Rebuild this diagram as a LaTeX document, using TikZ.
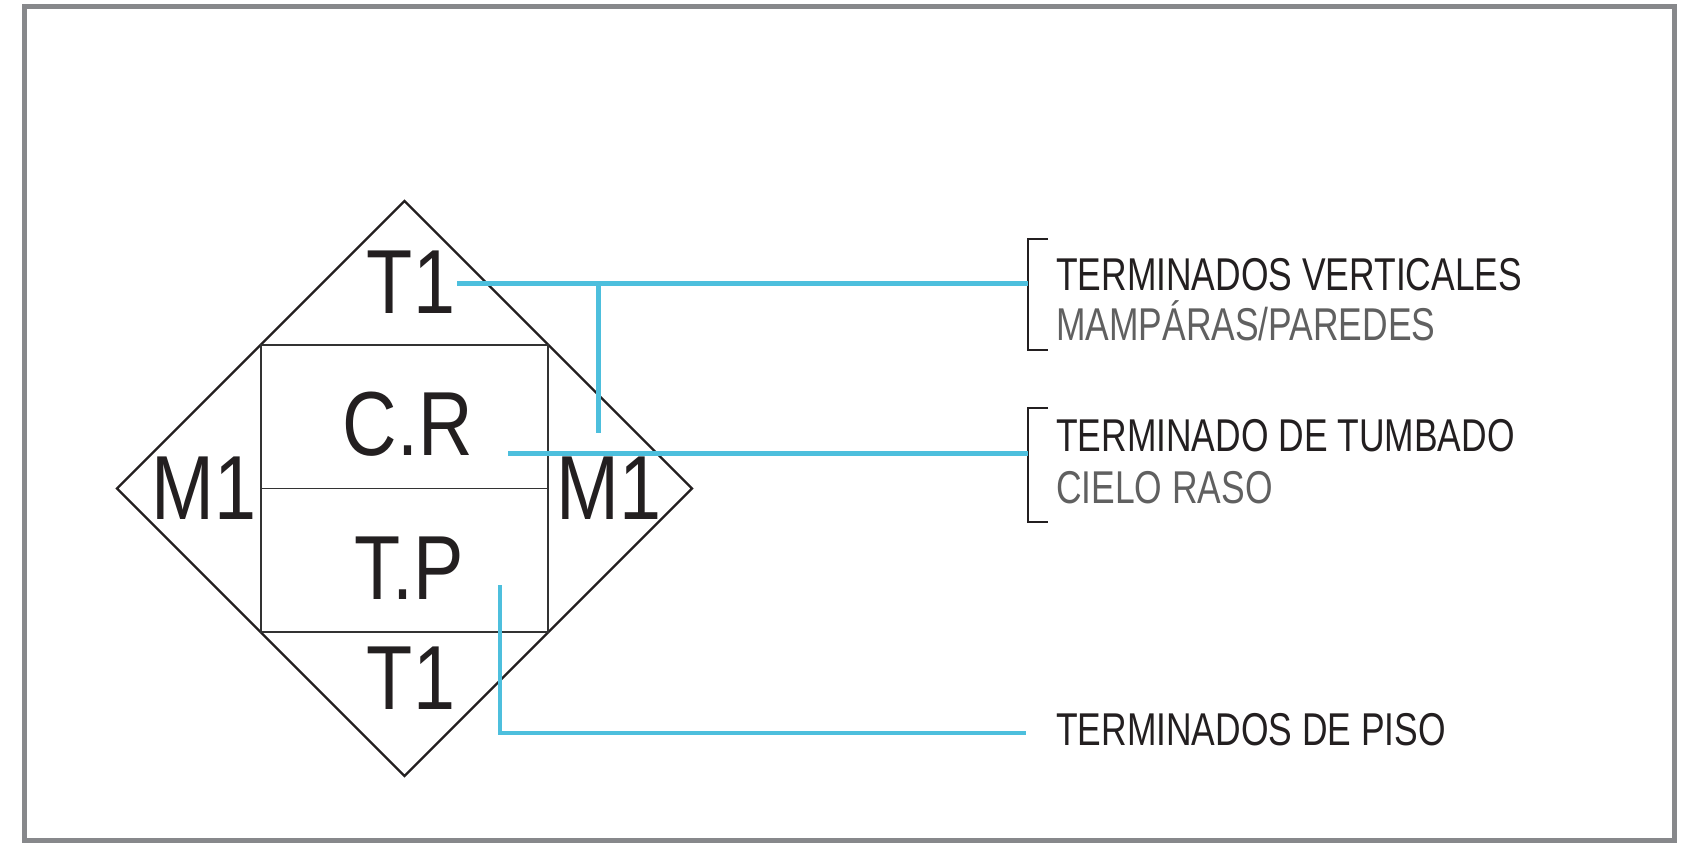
\documentclass[tikz,border=0pt]{standalone}
\usepackage{fontspec}
\newfontfamily\bigf{Liberation Sans}[FakeStretch=0.83]
\newfontfamily\labf{Liberation Sans}[FakeStretch=0.77]
\definecolor{lblue}{HTML}{4DBFDD}
\definecolor{txtblack}{HTML}{231F20}
\definecolor{txtgray}{HTML}{606060}
\definecolor{framegray}{HTML}{87888B}
\begin{document}
\begin{tikzpicture}[x=1pt,y=-1pt,
  bigtxt/.style={font=\bigf\fontsize{91}{91}\selectfont, text=txtblack, inner sep=0pt, anchor=base},
  labtxt/.style={font=\labf\fontsize{46}{46}\selectfont, text=txtblack, inner sep=0pt, anchor=base west},
  subtxt/.style={labtxt, text=txtgray},
  diam/.style={draw=txtblack, line width=2.4pt, line join=miter},
  sq/.style={draw=black!80, line width=1.2pt},
  conn/.style={draw=lblue, line width=4.6pt},
  brk/.style={draw=txtblack, line width=2.2pt}]
\useasboundingbox (0,0) rectangle (1685,854);
\draw[framegray, line width=5pt] (24.5,6.5) rectangle (1674,840);
% diamond and inner square
\draw[diam] (404.5,201) -- (692,488.5) -- (404.5,776) -- (117,488.5) -- cycle;
\draw[sq] (261,345) rectangle (548,632);
\draw[sq] (261,488.5) -- (548,488.5);
% big texts
\node[bigtxt] (t1top) at (411,313.5) {T1};
\node[bigtxt] (cr) at (408,455.5) {C.R};
\node[bigtxt] (tp) at (409,599) {T.P};
\node[bigtxt] (t1bot) at (411,709) {T1};
\node[bigtxt] (m1l) at (204,519.5) {M1};
\node[bigtxt] (m1r) at (609,519.5) {M1};
% labels
\node[labtxt] (lab1) at (1056,290) {TERMINADOS VERTICALES};
\node[subtxt] (lab1b) at (1056,340) {MAMPÁRAS/PAREDES};
\node[labtxt] (lab2) at (1056,451) {TERMINADO DE TUMBADO};
\node[subtxt] (lab2b) at (1056,503) {CIELO RASO};
\node[labtxt] (lab3) at (1056,745) {TERMINADOS DE PISO};
% brackets
\draw[brk] (1048,239) -- (1028,239) -- (1028,350) -- (1048,350);
\draw[brk] (1048,408) -- (1028,408) -- (1028,522) -- (1048,522);
% connector points
\coordinate (a1) at (457,283.5);
\coordinate (e1) at (1028,283.5);
\coordinate (j1) at (598.5,283.5);
\coordinate (j1b) at (598.5,433);
\coordinate (a2) at (508,453.5);
\coordinate (e2) at (1028,453.5);
\coordinate (a3) at (500,585);
\coordinate (e3) at (1026,733);
\draw[conn] (a1) -- (e1);
\draw[conn] (j1) -- (j1b);
\draw[conn] (a2) -- (e2);
\draw[conn] (a3) |- (e3);
\end{tikzpicture}
\end{document}
